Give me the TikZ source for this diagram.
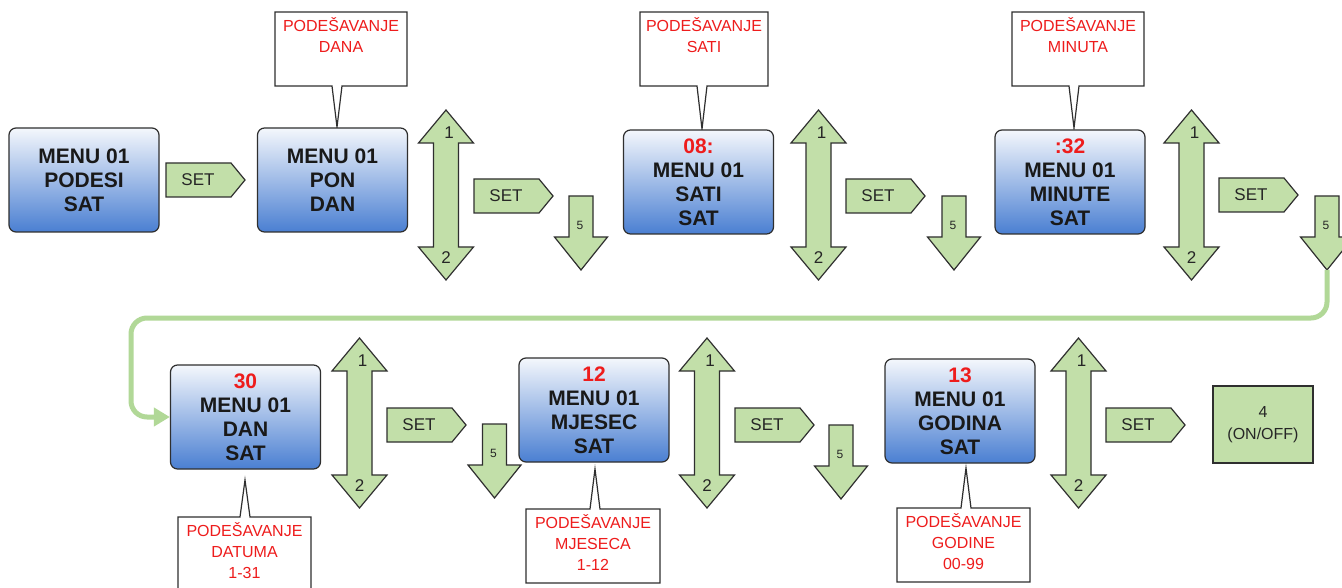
\documentclass[tikz,border=0pt]{standalone}
\usepackage{fontspec}
\setmainfont{Liberation Sans}
\usetikzlibrary{arrows.meta}
\definecolor{gfill}{HTML}{C2DFA9}
\definecolor{gline}{HTML}{B1D897}
\definecolor{btop}{HTML}{F4F7FC}
\definecolor{bbot}{HTML}{4A7FD2}
\definecolor{bord}{HTML}{2F2F2F}
\definecolor{redtxt}{HTML}{EE1C1C}
\tikzset{
  gshape/.style={draw=bord, fill=gfill, line width=1.2pt, line join=miter},
  settxt/.style={font=\fontsize{17}{20}\selectfont, text=black!85, inner sep=0pt},
  numtxt/.style={font=\fontsize{17}{20}\selectfont, text=black!85, inner sep=0pt},
  smalltxt/.style={font=\fontsize{12}{14}\selectfont, text=black!85, inner sep=0pt},
  menubox/.style={draw=bord, line width=1.2pt, rounded corners=7pt, top color=btop, bottom color=bbot,
    minimum width=150pt, minimum height=104pt, inner sep=0pt, align=center,
    font=\fontsize{21}{24}\selectfont\bfseries, text=black!90},
  callbox/.style={draw=bord, fill=white, line width=1.2pt, line join=miter},
  calltxt/.style={text=redtxt, font=\fontsize{16}{21}\selectfont, align=center, anchor=north, inner sep=0pt},
  greenbox/.style={draw=bord, fill=gfill, line width=1.1pt, minimum width=100pt, minimum height=77pt,
    inner sep=0pt, align=center, font=\fontsize{16}{22}\selectfont, text=black!85},
  loopline/.style={draw=gline, line width=5pt, rounded corners=16pt, -{Triangle[length=16pt,width=18pt]}},
  setarrow/.pic={
    \draw[gshape] (0,0) -- (65,0) -- (79,17) -- (65,34) -- (0,34) -- cycle;
    \node[settxt] (-t) at (32,17) {SET};
  },
  updown/.pic={
    \draw[gshape] (0,0) -- (27.5,33) -- (12.5,33) -- (12.5,137) -- (27.5,137) -- (0,170)
      -- (-27.5,137) -- (-12.5,137) -- (-12.5,33) -- (-27.5,33) -- cycle;
    \node[numtxt] (-a) at (3,23) {1};
    \node[numtxt] (-b) at (0,148) {2};
  },
  downarrow/.pic={
    \draw[gshape] (-12,0) -- (12,0) -- (12,41) -- (26.5,41) -- (0,74) -- (-26.5,41) -- (-12,41) -- cycle;
    \node[smalltxt] (-t) at (-1,29) {5};
    \coordinate (-tip) at (0,74);
  },
}
\begin{document}
\begin{tikzpicture}[x=1pt, y=-1pt]
\useasboundingbox (0,0) rectangle (1342,588);
\fill[white] (0,0) rectangle (1342,588);

% ---- callouts (drawn first) ----
\draw[callbox] (275,12) -- (407,12) -- (407,86) -- (342,86) -- (337,127) -- (332,86) -- (275,86) -- cycle;
\node[calltxt] (cB) at (341,17) {PODEŠAVANJE\\DANA};
\draw[callbox] (640,12) -- (768,12) -- (768,86) -- (707,86) -- (702,129) -- (697,86) -- (640,86) -- cycle;
\node[calltxt] (cC) at (704,17) {PODEŠAVANJE\\SATI};
\draw[callbox] (1012,12) -- (1144,12) -- (1144,86) -- (1079,86) -- (1074,128) -- (1069,86) -- (1012,86) -- cycle;
\node[calltxt] (cD) at (1078,17) {PODEŠAVANJE\\MINUTA};
\draw[callbox] (178,517) -- (240,517) -- (245,480) -- (250,517) -- (311,517) -- (311,600) -- (178,600) -- cycle;
\node[calltxt] (cE) at (244.5,522) {PODEŠAVANJE\\DATUMA\\1-31};
\draw[callbox] (526,509) -- (590,509) -- (595,469) -- (600,509) -- (660,509) -- (660,583) -- (526,583) -- cycle;
\node[calltxt] (cF) at (593,514) {PODEŠAVANJE\\MJESECA\\1-12};
\draw[callbox] (897,508) -- (961,508) -- (966,468) -- (971,508) -- (1030,508) -- (1030,582) -- (897,582) -- cycle;
\node[calltxt] (cG) at (963.5,513) {PODEŠAVANJE\\GODINE\\00-99};

% ---- menu boxes ----
\node[menubox] (boxA) at (84,180) {MENU 01\\PODESI\\SAT};
\node[menubox] (boxB) at (332.5,180) {MENU 01\\PON\\DAN};
\node[menubox] (boxC) at (698.5,182) {\textcolor{redtxt}{08:}\\MENU 01\\SATI\\SAT};
\node[menubox] (boxD) at (1070,182) {\textcolor{redtxt}{:32}\\MENU 01\\MINUTE\\SAT};
\node[menubox] (boxE) at (245.5,417) {\textcolor{redtxt}{30}\\MENU 01\\DAN\\SAT};
\node[menubox] (boxF) at (594,410) {\textcolor{redtxt}{12}\\MENU 01\\MJESEC\\SAT};
\node[menubox] (boxG) at (960,411) {\textcolor{redtxt}{13}\\MENU 01\\GODINA\\SAT};
\node[greenbox] (onoff) at (1263,424.5) {4\\(ON/OFF)};

% ---- SET arrows ----
\pic (s1) at (166,163) {setarrow};
\pic (s2) at (474,179) {setarrow};
\pic (s3) at (846,179) {setarrow};
\pic (s4) at (1219,178) {setarrow};
\pic (s5) at (387,408) {setarrow};
\pic (s6) at (735,408) {setarrow};
\pic (s7) at (1106,408) {setarrow};

% ---- up/down arrows ----
\pic (u1) at (446,110) {updown};
\pic (u2) at (818.5,110) {updown};
\pic (u3) at (1191.5,110) {updown};
\pic (u4) at (359.5,338) {updown};
\pic (u5) at (707,338) {updown};
\pic (u6) at (1078.5,338) {updown};

% ---- down arrows (5) ----
\pic (d1) at (581,196) {downarrow};
\pic (d2) at (954,196) {downarrow};
\pic (d3) at (1327,196) {downarrow};
\pic (d4) at (494.5,424) {downarrow};
\pic (d5) at (841,425) {downarrow};

% ---- loop connector ----
\coordinate (lp) at (131,318);
\draw[loopline] (d3-tip) |- (lp) |- (boxE.west);
\end{tikzpicture}
\end{document}
